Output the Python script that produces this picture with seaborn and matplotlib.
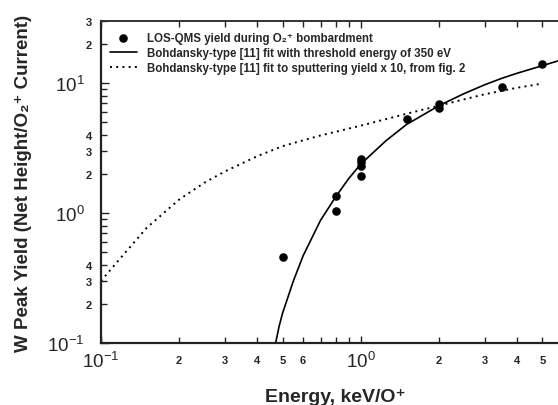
import numpy as np
import pandas as pd
import seaborn as sns
import matplotlib
matplotlib.use("Agg")
import matplotlib.pyplot as plt
from matplotlib.ticker import FixedLocator, FuncFormatter

# measured yield (LOS-QMS) during O2+ bombardment
pts_energy = [0.50, 0.80, 0.80, 1.0, 1.0, 1.0, 1.0, 1.5, 2.0, 2.0, 3.5, 5.0]
pts_yield = [0.46, 1.34, 1.04, 2.60, 2.45, 2.31, 1.93, 5.28, 6.89, 6.39, 9.27, 13.9]

# Bohdansky fit, threshold 350 eV
fit_energy = [0.47, 0.485, 0.50, 0.55, 0.60, 0.70, 0.80, 0.90, 1.0, 1.25, 1.5, 2.0, 2.5, 3.0, 3.5, 4.0, 5.0, 5.8]
fit_yield = [0.10, 0.135, 0.17, 0.30, 0.47, 0.88, 1.33, 1.85, 2.38, 3.6, 4.8, 6.7, 8.3, 9.7, 10.9, 11.9, 13.6, 14.9]

# Bohdansky fit to sputtering yield x 10 (fig. 2)
spt_energy = [0.10, 0.12, 0.15, 0.20, 0.25, 0.30, 0.40, 0.50, 0.70, 1.0, 1.5, 2.0, 3.0, 4.0, 5.0]
spt_yield = [0.30, 0.46, 0.77, 1.27, 1.71, 2.09, 2.74, 3.27, 3.95, 4.7, 5.8, 6.7, 8.2, 9.2, 9.9]

x_minor_labels = [0.2, 0.3, 0.4, 0.5, 0.6, 2, 3, 4, 5]
y_minor_labels = [0.2, 0.3, 0.4, 2, 3, 4, 20, 30]

sns.set_style("ticks")
plt.rcParams["font.family"] = ["Liberation Sans", "DejaVu Sans"]
plt.rcParams["mathtext.default"] = "regular"

df_pts = pd.DataFrame({"E": pts_energy, "Y": pts_yield})
df_fit = pd.DataFrame({"E": fit_energy, "Y": fit_yield})
df_spt = pd.DataFrame({"E": spt_energy, "Y": spt_yield})

fig = plt.figure(figsize=(5.58, 4.06), dpi=100)
ax = fig.add_axes([101 / 558, 62 / 406, 457 / 558, 322 / 406])

sns.scatterplot(data=df_pts, x="E", y="Y", ax=ax, color="black", s=38, edgecolor="black",
                linewidth=0, label="LOS-QMS yield during O\u2082\u207a bombardment", zorder=3)
sns.lineplot(data=df_fit, x="E", y="Y", ax=ax, color="black", lw=1.2, sort=False, estimator=None,
             label="Bohdansky-type [11] fit with threshold energy of 350 eV")
sns.lineplot(data=df_spt, x="E", y="Y", ax=ax, color="black", lw=1.4, sort=False, estimator=None,
             linestyle=(0, (1, 2.2)),
             label="Bohdansky-type [11] fit to sputtering yield x 10, from fig. 2")

ax.set_xscale("log")
ax.set_yscale("log")
ax.set_xlim(0.1, 5.74)
ax.set_ylim(0.1, 30)

minor_vals = [m * 10.0 ** d for d in range(-2, 2) for m in range(2, 10)]
ax.xaxis.set_major_locator(FixedLocator([0.1, 1, 10]))
ax.yaxis.set_major_locator(FixedLocator([0.1, 1, 10]))
ax.xaxis.set_minor_locator(FixedLocator(minor_vals))
ax.yaxis.set_minor_locator(FixedLocator(minor_vals))

def major_fmt(v, pos):
    return "$10^{%d}$" % int(round(np.log10(v)))

def minor_fmt(labels):
    def f(v, pos):
        for lv in labels:
            if abs(v - lv) < 1e-6 * lv:
                m = v / 10.0 ** np.floor(np.log10(v) + 1e-9)
                return "%d" % round(m)
        return ""
    return f

ax.xaxis.set_major_formatter(FuncFormatter(major_fmt))
ax.yaxis.set_major_formatter(FuncFormatter(major_fmt))
ax.xaxis.set_minor_formatter(FuncFormatter(minor_fmt(x_minor_labels)))
ax.yaxis.set_minor_formatter(FuncFormatter(minor_fmt(y_minor_labels)))

ax.tick_params(axis="both", which="both", direction="in", color="#222222", width=1.0)
ax.tick_params(axis="x", which="both", top=True, bottom=True)
ax.tick_params(axis="y", which="both", left=True, right=False)
ax.tick_params(axis="x", which="major", length=5, labelsize=13.5, pad=5.5)
ax.tick_params(axis="x", which="minor", length=4, labelsize=8, pad=9)
ax.tick_params(axis="y", which="major", length=6, labelsize=13.5, pad=12)
ax.tick_params(axis="y", which="minor", length=4, labelsize=8, pad=6.5)
for lab in ax.xaxis.get_minorticklabels() + ax.yaxis.get_minorticklabels():
    lab.set_fontweight("bold")

for side in ["left", "bottom"]:
    ax.spines[side].set_linewidth(1.6)
    ax.spines[side].set_color("#222222")
ax.spines["top"].set_linewidth(1.4)
ax.spines["top"].set_color("#333333")
ax.spines["right"].set_visible(False)

ax.set_xlabel("Energy, keV/O\u207a", fontsize=14, fontweight="bold")
ax.set_ylabel("W Peak Yield (Net Height/O\u2082\u207a Current)", fontsize=13.5, fontweight="bold")
ax.xaxis.set_label_coords(0.512, -0.14)
ax.yaxis.set_label_coords(-0.152, 0.5)

ax.legend(loc="upper left", bbox_to_anchor=(0.02, 0.966), frameon=False, borderpad=0,
          borderaxespad=0, handlelength=2.3, handletextpad=0.9, labelspacing=0.28,
          prop={"size": 8.3, "weight": "bold"})

fig.savefig("out.png", dpi=100)
